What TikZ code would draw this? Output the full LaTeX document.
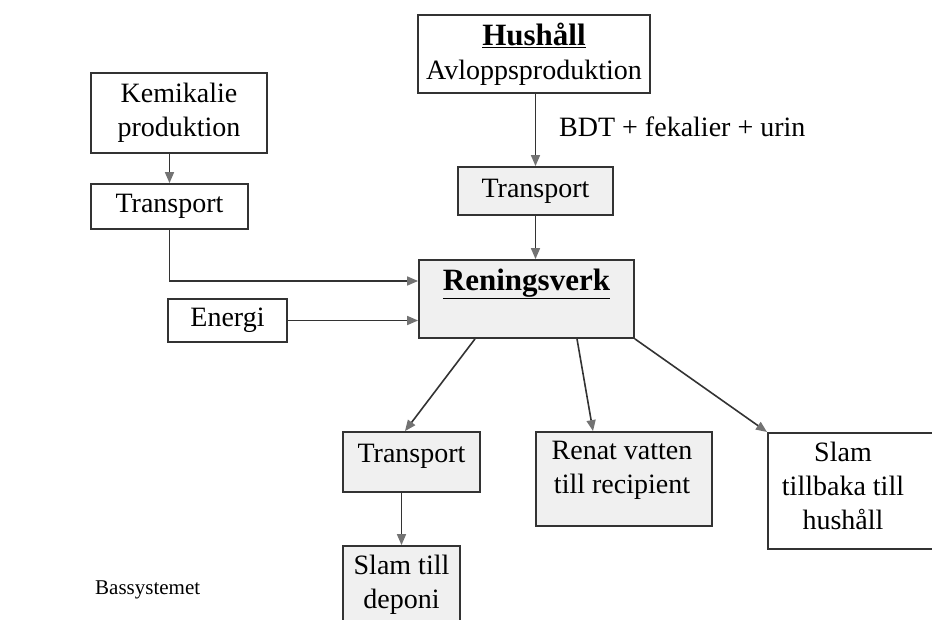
\documentclass[tikz,border=0pt]{standalone}
\usepackage{fontspec}
\setmainfont{Liberation Serif}
\usetikzlibrary{arrows.meta}
\begin{document}
\begin{tikzpicture}[x=1pt,y=-1pt,
  box/.style={draw=black!80, line width=1.8pt, rectangle, inner sep=0pt,
    align=center, font=\fontsize{28}{34}\selectfont},
  shaded/.style={box, fill=black!6},
  txt/.style={inner sep=0pt, align=center, font=\fontsize{28}{34}\selectfont},
  head/.style={font=\fontsize{31}{37}\selectfont\bfseries},
  arr/.style={draw=black!80, line width=1.6pt,
    -{Triangle[length=11pt,width=9pt,fill=black!55,color=black!55]}}]
\useasboundingbox (0,0) rectangle (932,620);
\clip (0,0) rectangle (932,620);

% sources
\node[box, minimum width=232, minimum height=78] (hus) at (534,54)
  {{\fontsize{31}{37}\selectfont\bfseries\underline{Hushåll}}\\Avloppsproduktion};
\node[box, minimum width=176, minimum height=80] (kem) at (179,113)
  {Kemikalie\\produktion};
\node[box, minimum width=157, minimum height=45] (tr1) at (169.5,206.5) {Transport};
\node[shaded, minimum width=155, minimum height=48] (tr2) at (535.5,191) {Transport};
\node[box, minimum width=119, minimum height=43] (en) at (227.5,320.5) {Energi};

% treatment plant
\node[shaded, minimum width=215, minimum height=78] (ren) at (526.5,299) {};
\node[txt, head] (rentxt) at (526.5,284) {\underline{Reningsverk}};

% outputs
\node[shaded, minimum width=137, minimum height=60] (tr3) at (411.5,462) {};
\node[txt] (tr3txt) at (411.5,456) {Transport};
\node[shaded, minimum width=176, minimum height=94] (renat) at (624,479) {};
\node[txt] (renattxt) at (622,470) {Renat vatten\\till recipient};
\node[shaded, minimum width=117, minimum height=78] (dep) at (401.5,585) {};
\node[txt] (deptxt) at (401.5,585) {Slam till\\deponi};
\node[box, minimum width=180, minimum height=116, anchor=north west] (slam) at (767,432) {};
\node[txt] (slamtxt) at (843,486) {Slam\\tillbaka till\\hushåll};

% labels
\node[txt, anchor=west] (bdt) at (559,127) {BDT + fekalier + urin};
\node[txt, anchor=west, font=\fontsize{21}{25}\selectfont] (bas) at (95,590) {Bassystemet};

% flows
\draw[arr] (kem.south -| tr1.north) -- (tr1.north);
\draw[arr] (tr1.south) |- ([yshift=18pt]ren.west);
\draw[arr] (en.east) -- (en.east -| ren.west);
\draw[arr] (hus.south -| tr2.north) -- (tr2.north);
\draw[arr] (tr2.south) -- (tr2.south |- ren.north);
\draw[arr] ([xshift=-51.5pt]ren.south) -- ([xshift=-6.5pt]tr3.north);
\draw[arr] ([xshift=50.5pt]ren.south) -- ([xshift=-31pt]renat.north);
\draw[arr] (ren.south east) -- (slam.north west);
\draw[arr] (tr3.south -| dep.north) -- (dep.north);
\end{tikzpicture}
\end{document}
